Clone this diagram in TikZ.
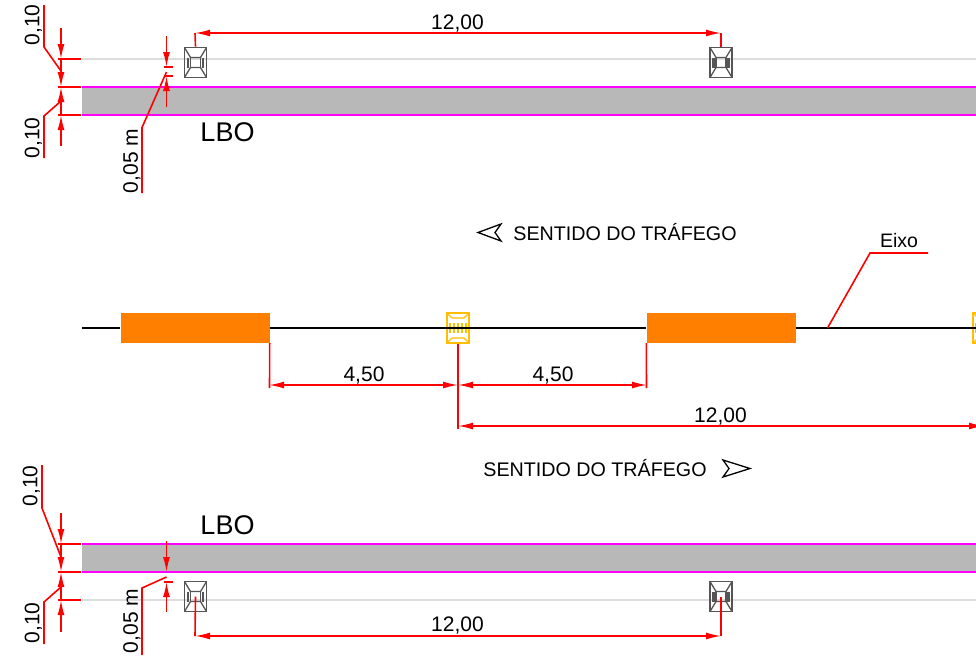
\documentclass[tikz,border=0pt]{standalone}
\usepackage{fontspec}
\setmainfont{Liberation Sans}
\usetikzlibrary{arrows.meta}
\definecolor{cinzapista}{HTML}{B8B8B8}
\definecolor{cinzalinha}{HTML}{DDDDDD}
\definecolor{cinzasinal}{HTML}{555555}
\definecolor{laranja}{HTML}{FF8000}
\definecolor{amarelo}{HTML}{FFBF00}
\definecolor{rosa}{HTML}{FF00FF}
\definecolor{vermelho}{HTML}{FF0000}
\tikzset{
  cota/.style={draw=vermelho, line width=1.6pt},
  seta/.style={cota, -{Latex[length=15pt,width=7pt]}},
  setas/.style={cota, {Latex[length=15pt,width=7pt]}-{Latex[length=15pt,width=7pt]}},
  bordo/.style={draw=rosa, line width=1.8pt},
  eixo/.style={line width=1.8pt},
  faixa/.style={fill=laranja, minimum width=149pt, minimum height=30pt, inner sep=0pt},
  txtcota/.style={font=\fontsize{21}{21}\selectfont, inner sep=0pt},
  sentido/.style={font=\fontsize{19.7}{19.7}\selectfont, inner sep=0pt},
  sinal/.style={draw=cinzasinal, line width=1.8pt, minimum width=22pt, minimum height=30pt, inner sep=0pt,
    path picture={
      \draw[cinzasinal, line width=1.3pt] (path picture bounding box.north west) -- ++(6,10) -- ++(10,0) -- (path picture bounding box.north east);
      \draw[cinzasinal, line width=1.3pt] (path picture bounding box.south west) -- ++(6,-10) -- ++(10,0) -- (path picture bounding box.south east);
      \draw[cinzasinal, line width=1.3pt] ([shift={(6,10)}]path picture bounding box.north west) -- ++(0,10);
      \draw[cinzasinal, line width=1.3pt] ([shift={(16,10)}]path picture bounding box.north west) -- ++(0,10);
      \draw[cinzasinal, line width=2.5pt] ([shift={(3.5,10)}]path picture bounding box.north west) -- ++(0,10);
      \draw[cinzasinal, line width=2.5pt] ([shift={(18.5,10)}]path picture bounding box.north west) -- ++(0,10);
    }},
  sinalam/.style={draw=amarelo, line width=1.8pt, minimum width=22pt, minimum height=30pt, inner sep=0pt,
    path picture={
      \draw[amarelo, line width=1.3pt] (path picture bounding box.north west) -- ++(5,5) -- ++(12,0) -- (path picture bounding box.north east);
      \draw[amarelo, line width=1.3pt] (path picture bounding box.south west) -- ++(5,-5) -- ++(12,0) -- (path picture bounding box.south east);
      \foreach \x in {3,7,11,15,19}
        \draw[amarelo, line width=1.5pt] ([shift={(\x,10)}]path picture bounding box.north west) -- ++(0,10);
    }}
}
\begin{document}
\begin{tikzpicture}[x=1pt, y=-1pt]
  \useasboundingbox (0,0) rectangle (976,657);

  % pista superior
  \draw[cinzalinha, line width=1.4pt] (82,59) -- (976,59);
  \fill[cinzapista] (82,87) rectangle (976,115);
  \draw[bordo] (82,87) -- (976,87);
  \draw[bordo] (82,115) -- (976,115);
  \node[sinal] (s1) at (195.5,62.5) {};
  \node[sinal] (s2) at (721,62.5) {};
  \node[font=\fontsize{27}{27}\selectfont, inner sep=0pt] (lbo1) at (227.5,132) {LBO};

  \coordinate (c1) at (195,33);
  \coordinate (c2) at (721,33);
  \draw[cota] (s1.north) -- (c1);
  \draw[cota] (s2.north) -- (c2);
  \draw[setas] (c1) -- (c2);
  \node[txtcota] (t1) at (457.5,24) {12,00};

  \coordinate (a0) at (61,28);
  \coordinate (a1) at (61,59);
  \coordinate (a2) at (61,87);
  \coordinate (a3) at (61,115);
  \coordinate (a4) at (61,146);
  \draw[seta] (a0) -- (a1);
  \draw[seta] (a1) -- (a2);
  \draw[seta] (a3) -- (a2);
  \draw[seta] (a4) -- (a3);
  \draw[cota] (58,59) -- (81,59);
  \draw[cota] (58,87) -- (81,87);
  \draw[cota] (58,115) -- (81,115);
  \node[txtcota, rotate=90] (t2) at (33.5,25) {0,10};
  \node[txtcota, rotate=90] (t3) at (33.5,138) {0,10};
  \draw[cota] (44,5) -- (44,47) -- (a1 |- 0,71);
  \draw[cota] (44,158) -- (44,116) -- (a2 |- 0,101);

  \coordinate (b0) at (166.5,36);
  \coordinate (b1) at (166.5,67);
  \coordinate (b2) at (166.5,76);
  \coordinate (b3) at (166.5,107);
  \draw[seta] (b0) -- (b1);
  \draw[seta] (b3) -- (b2);
  \draw[cota] (164,67) -- (173,67);
  \draw[cota] (164,76) -- (173,76);
  \node[txtcota, rotate=90] (t4) at (132,161) {0,05 m};
  \draw[cota] (142,193) -- (142,127.5) -- (166.5,72);

  % eixo
  \node[sentido] (st1) at (625,232.5) {SENTIDO DO TRÁFEGO};
  \draw[line width=1.3pt] (501,224) -- (478,232.5) -- (501,241) -- (495,232.5) -- cycle;
  \node[faixa] (f1) at (195,328) {};
  \node[faixa] (f2) at (721,328) {};
  \node[sinalam] (s3) at (458,328) {};
  \node[sinalam] (s4) at (984,328) {};
  \draw[eixo] (82,328) -- (f1.west);
  \draw[eixo] (f1.east) -- (s3.center);
  \draw[eixo] (s3.center) -- (f2.west);
  \draw[eixo] (f2.east) -- (s4.center);

  \coordinate (e1) at (827.5,328);
  \coordinate (e2) at (870,253);
  \coordinate (e3) at (928,253);
  \draw[cota] (e1) -- (e2) -- (e3);
  \node[font=\fontsize{19.5}{19.5}\selectfont, inner sep=0pt] (t5) at (899,241) {Eixo};

  \coordinate (d1) at (269,385);
  \coordinate (d2) at (458,385);
  \coordinate (d3) at (647,385);
  \coordinate (d4) at (458,426);
  \coordinate (d5) at (984,426);
  \draw[cota] (f1.south east) -- (269.5,388);
  \draw[cota] (s3.south) -- (458,429);
  \draw[cota] (f2.south west) -- (646.5,388);
  \draw[setas] (d1) -- (d2);
  \draw[setas] (d2) -- (d3);
  \draw[setas] (d4) -- (d5);
  \node[txtcota] (t6) at (364,376) {4,50};
  \node[txtcota] (t7) at (553,376) {4,50};
  \node[txtcota] (t8) at (720.5,416) {12,00};
  \node[sentido] (st2) at (595,468) {SENTIDO DO TRÁFEGO};
  \draw[line width=1.3pt] (723,460) -- (750,468.5) -- (723,477) -- (729,468.5) -- cycle;

  % pista inferior
  \draw[cinzalinha, line width=1.4pt] (82,600) -- (976,600);
  \fill[cinzapista] (82,544) rectangle (976,572);
  \draw[bordo] (82,544) -- (976,544);
  \draw[bordo] (82,572) -- (976,572);
  \node[sinal] (s5) at (195.5,596.5) {};
  \node[sinal] (s6) at (721,596.5) {};
  \node[font=\fontsize{27}{27}\selectfont, inner sep=0pt] (lbo2) at (227.5,525) {LBO};

  \coordinate (c3) at (195,636);
  \coordinate (c4) at (721,636);
  \draw[cota] (s5.center) -- (c3);
  \draw[cota] (s6.center) -- (c4);
  \draw[setas] (c3) -- (c4);
  \node[txtcota] (t9) at (457.5,625.5) {12,00};

  \coordinate (a5) at (61,513);
  \coordinate (a6) at (61,544);
  \coordinate (a7) at (61,572);
  \coordinate (a8) at (61,600);
  \coordinate (a9) at (61,632);
  \draw[seta] (a5) -- (a6);
  \draw[seta] (a6) -- (a7);
  \draw[seta] (a8) -- (a7);
  \draw[seta] (a9) -- (a8);
  \draw[cota] (58,544) -- (81,544);
  \draw[cota] (58,572) -- (81,572);
  \draw[cota] (58,600) -- (81,600);
  \node[txtcota, rotate=90] (t10) at (31.5,486) {0,10};
  \node[txtcota, rotate=90] (t11) at (33.5,623) {0,10};
  \draw[cota] (42,465) -- (42,508) -- (a6 |- 0,557);
  \draw[cota] (44,644) -- (44,602) -- (a7 |- 0,587);

  \coordinate (b4) at (166.5,541);
  \coordinate (b5) at (166.5,572);
  \coordinate (b6) at (166.5,582);
  \coordinate (b7) at (166.5,612);
  \draw[seta] (b4) -- (b5);
  \draw[seta] (b7) -- (b6);
  \draw[cota] (164,582) -- (173,582);
  \node[txtcota, rotate=90] (t12) at (132,621) {0,05 m};
  \draw[cota] (142,655) -- (142,588) -- (166.5,577);
\end{tikzpicture}
\end{document}
